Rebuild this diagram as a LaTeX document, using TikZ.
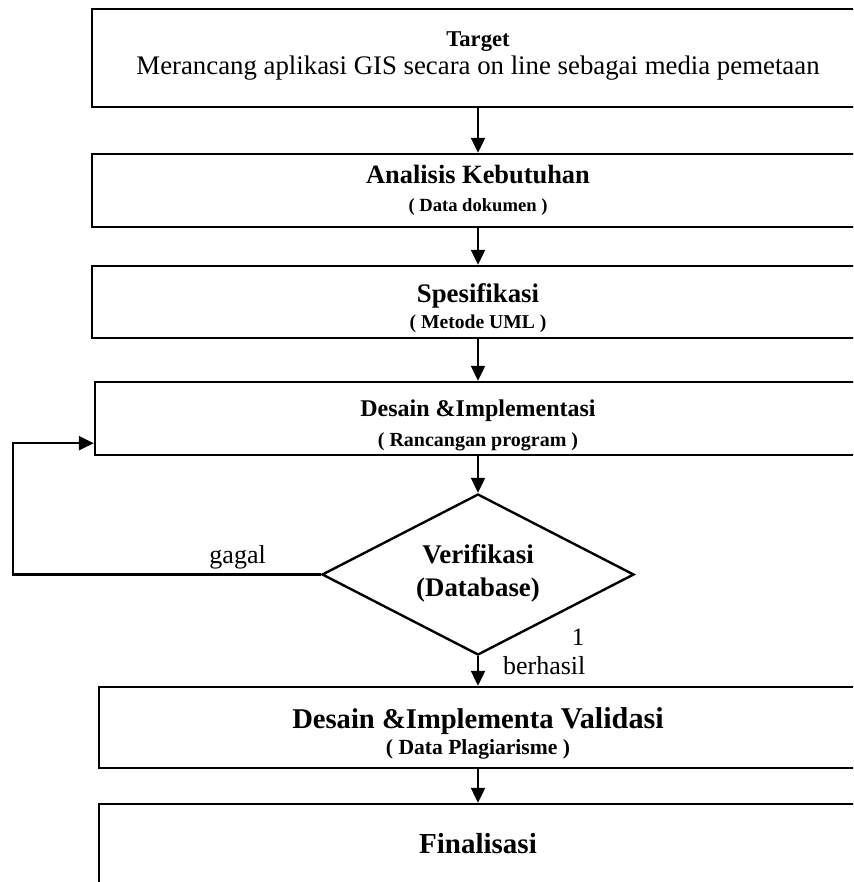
\documentclass[tikz,border=0pt]{standalone}
\usepackage{fontspec}
\setmainfont{Liberation Serif}
\usetikzlibrary{arrows.meta, positioning, shapes.geometric}
\newcommand{\fsz}[2]{\fontsize{#1}{#2}\selectfont}
\tikzset{
  box/.style={rectangle, draw, line width=1.2pt, align=center, inner sep=0pt},
  decision/.style={diamond, draw, line width=1.2pt, align=center, inner sep=0pt, aspect=2},
  line/.style={line width=1.1pt, -{Triangle[length=7.5pt, width=7pt]}},
  lbl/.style={inner sep=2pt}
}

\begin{document}
\begin{tikzpicture}[x=0.5pt, y=-0.5pt]
    \useasboundingbox (0,0) rectangle (853,882);
    \clip (0,0) rectangle (853,882);
    \node[box, minimum width=386pt, minimum height=49pt, font=\fsz{11.3}{14.1}, text height=19pt, text depth=2pt] (tgt) at (478,58)
      {\fsz{11.3}{14.1}\textbf{Target}\\\fsz{13.4}{14.1}Merancang aplikasi GIS secara on line sebagai media pemetaan};
    \node[box, minimum width=386pt, minimum height=36.5pt, font=\fsz{13.2}{14.4}, text height=22.5pt, text depth=1pt] (ana) at (478,190.5)
      {\fsz{13.2}{14.4}\textbf{Analisis Kebutuhan}\\\fsz{9.3}{14.4}\textbf{( Data dokumen )}};
    \node[box, minimum width=386pt, minimum height=36pt, font=\fsz{13.4}{13}, text height=28pt, text depth=1.7pt] (spe) at (478,302)
      {\fsz{13.4}{13}\textbf{Spesifikasi}\\\fsz{9.8}{13}\textbf{( Metode UML )}};
    \node[box, minimum width=383pt, minimum height=36.5pt, font=\fsz{12}{14.9}, text height=29pt, text depth=1.5pt] (des) at (478,418.5)
      {\fsz{12}{14.9}\textbf{Desain \&Implementasi}\\\fsz{10}{14.9}\textbf{( Rancangan program )}};
    \node[decision, minimum width=156pt, minimum height=80.5pt, font=\fsz{13.5}{16.5}, text height=23pt, text depth=1.5pt] (ver) at (478,574.5)
      {\fsz{13.5}{16.5}\textbf{Verifikasi}\\\fsz{13.4}{16.5}\textbf{(Database)}};
    \node[box, minimum width=379pt, minimum height=40.5pt, font=\fsz{14.3}{13}, text height=29pt, text depth=2pt] (val) at (478,727.5)
      {\fsz{14.3}{13}\textbf{Desain \&Implementa {\fsz{15.1}{13}Validasi}}\\\fsz{10.8}{13}\textbf{( Data Plagiarisme )}};
    \node[box, minimum width=379pt, minimum height=40pt, text height=10pt, text depth=0.3pt] (fin) at (478,844)
      {\fsz{14.5}{16}\textbf{Finalisasi}};
    \node[lbl] (one) at (578,637) {\fsz{12.5}{14}1};
    \draw[line] (tgt) -- (ana);
    \draw[line] (ana) -- (spe);
    \draw[line] (spe) -- (des);
    \draw[line] (des) -- (ver);
    \draw[line] (ver) -- node[right=10pt, pos=0.31, lbl] {\fsz{13}{14}berhasil} (val);
    \draw[line] (val) -- (fin);
    \draw[line] (ver.west) -- node[above, pos=0.27, lbl] {\fsz{13}{14}gagal} ++(-308,0)
      |- ([yshift=6.5pt]des.south west);
\end{tikzpicture}
\end{document}
